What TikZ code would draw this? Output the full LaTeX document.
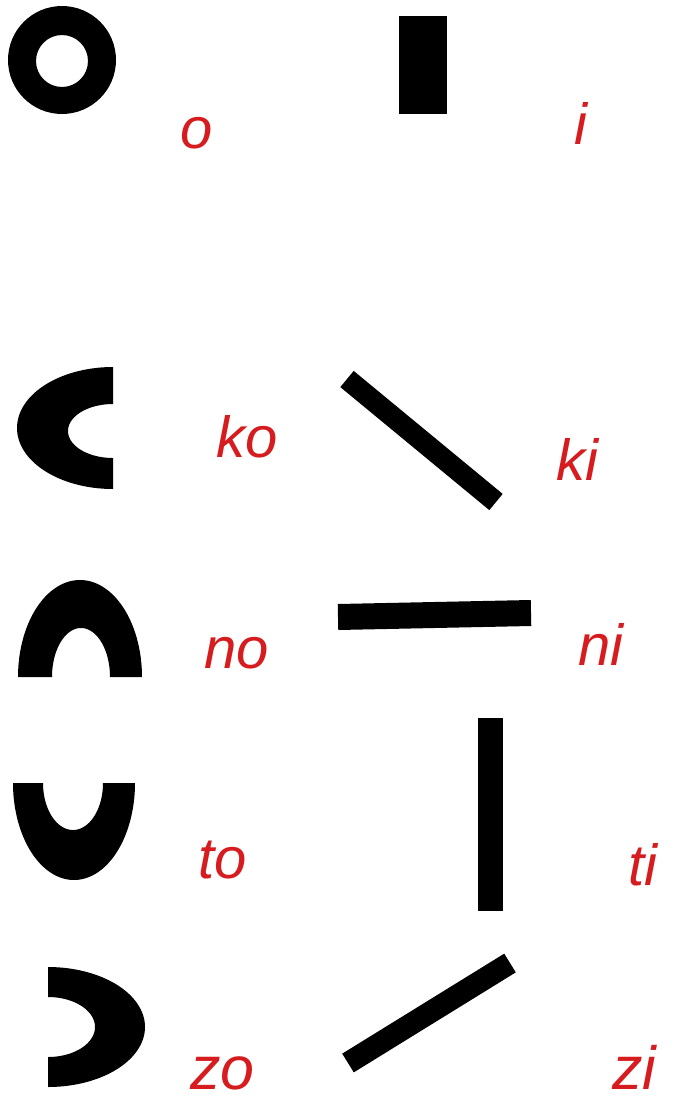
\documentclass[tikz,border=0pt]{standalone}
\usepackage{fontspec}
\setmainfont{Liberation Sans}
\definecolor{lblred}{RGB}{214,28,30}
\begin{document}
\begin{tikzpicture}[x=1pt,y=-1pt,
  lbl/.style={text=lblred,inner sep=0pt,anchor=base west,font=\itshape\fontsize{58}{60}\selectfont},
  lblbig/.style={lbl,font=\itshape\fontsize{61}{63}\selectfont},
  bar/.style={draw=black,line cap=butt}]
\useasboundingbox[fill=white] (0,0) rectangle (680,1103);
% o : ring
\fill[black,even odd rule] (62,60) circle[radius=54] (62,61) circle[radius=26];
% i : upright block
\fill[black] (399,16) rectangle (447,114);
% ko : C shape
\fill[black] plot[domain=270:90,samples=80] ({113+96*cos(\x)},{428+61*sin(\x)})
  -- plot[domain=90:270,samples=80] ({113+45*cos(\x)},{431+27*sin(\x)}) -- cycle;
% no : arch
\fill[black] plot[domain=180:360,samples=80] ({80+62*cos(\x)},{677+97*sin(\x)})
  -- plot[domain=360:180,samples=80] ({81+29*cos(\x)},{677+49*sin(\x)}) -- cycle;
% to : U shape
\fill[black] plot[domain=0:180,samples=80] ({74+61*cos(\x)},{783+97*sin(\x)})
  -- plot[domain=180:0,samples=80] ({73+30*cos(\x)},{783+47*sin(\x)}) -- cycle;
% zo : reversed C
\fill[black] plot[domain=-90:90,samples=80] ({48+97*cos(\x)},{1027+60*sin(\x)})
  -- plot[domain=90:-90,samples=80] ({48+47*cos(\x)},{1027+30*sin(\x)}) -- cycle;
% bars
\draw[bar,line width=21pt] (347,379) -- (496,502);
\draw[bar,line width=26pt] (338,617) -- (531,613);
\fill[black] (478,718) rectangle (503,911);
\draw[bar,line width=22pt] (348,1063) -- (510,963);
% labels
\node[lbl] (lo) at (180,148) {o};
\node[lbl] (li) at (574,144) {i};
\node[lbl] (lko) at (216,457) {ko};
\node[lbl] (lki) at (556,480) {ki};
\node[lbl] (lno) at (204,668) {no};
\node[lbl] (lni) at (578,665) {ni};
\node[lbl] (lto) at (198,878) {to};
\node[lbl] (lti) at (628,885) {ti};
\node[lblbig] (lzo) at (190,1089) {zo};
\node[lblbig] (lzi) at (612,1089) {zi};
\end{tikzpicture}
\end{document}
